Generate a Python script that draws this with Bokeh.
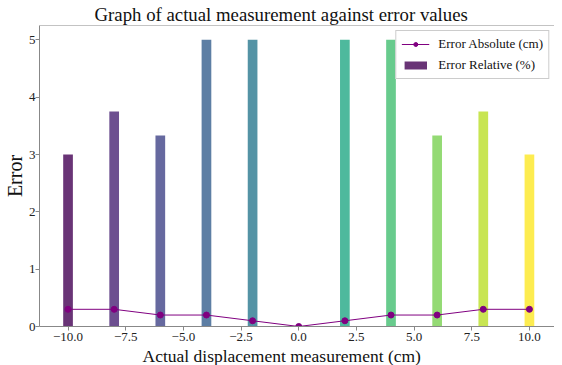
import math
from bokeh.plotting import figure
from bokeh.models import (ColumnDataSource, FixedTicker, CustomJSTickFormatter,
                          Range1d, Span, Legend, LegendItem, Title)
from bokeh.palettes import Viridis11
from bokeh.embed import file_html
from bokeh.resources import INLINE

# ---- data ----
displacement = [-10, -8, -6, -4, -2, 0, 2, 4, 6, 8, 10]
error_relative = [3.0, 3.75, 3.333, 5.0, 5.0, float("nan"), 5.0, 5.0, 3.333, 3.75, 3.0]
error_absolute = [0.3, 0.3, 0.2, 0.2, 0.1, 0.0, 0.1, 0.2, 0.2, 0.3, 0.3]
x_ticks = [-10, -7.5, -5, -2.5, 0, 2.5, 5, 7.5, 10]
y_ticks = [0, 1, 2, 3, 4, 5]
title_text = "Graph of actual measurement against error values"
x_label = "Actual displacement measurement (cm)"
y_label = "Error"
legend_abs = "Error Absolute (cm)"
legend_rel = "Error Relative (%)"

FONT = "Liberation Serif"

bar_src = ColumnDataSource(dict(x=displacement, top=error_relative, color=list(Viridis11)))
line_src = ColumnDataSource(dict(x=displacement, y=error_absolute))

p = figure(width=554, height=365, output_backend="svg", toolbar_location=None,
           x_range=Range1d(-11.237, 11.087), y_range=Range1d(0, 5.25),
           min_border_left=10, min_border_right=0, min_border_top=0, min_border_bottom=0,
           background_fill_color="white", border_fill_color="white")
p.outline_line_color = None
p.grid.visible = False

bars = p.vbar(x="x", top="top", width=0.42, bottom=0, source=bar_src,
              fill_color="color", fill_alpha=0.8, line_color=None)
ln = p.line(x="x", y="y", source=line_src, line_color="purple", line_width=1)
pts = p.scatter(x="x", y="y", source=line_src, size=6, marker="circle",
                fill_color="purple", line_color="purple")

top_spine = Span(location=5.25, dimension="width", line_color="#888888", line_width=1)
p.add_layout(top_spine)

# title
p.title.text = title_text
p.title.text_font = FONT
p.title.text_font_size = "18.8px"
p.title.text_font_style = "normal"
p.title.text_color = "#111111"
p.title.align = "left"
p.title.offset = 55
p.title.standoff = 2

for ax in (p.xaxis[0], p.yaxis[0]):
    ax.axis_line_color = "#888888"
    ax.major_tick_line_color = "#888888"
    ax.major_tick_out = 4
    ax.major_tick_in = 0
    ax.minor_tick_line_color = None
    ax.major_label_text_font = FONT
    ax.major_label_text_font_size = "13px"
    ax.major_label_text_color = "#222222"
    ax.axis_label_text_font = FONT
    ax.axis_label_text_font_style = "normal"
    ax.axis_label_text_color = "#111111"

p.xaxis[0].ticker = FixedTicker(ticks=x_ticks)
p.xaxis[0].formatter = CustomJSTickFormatter(
    code="return (tick < 0 ? '\\u2212' : '') + Math.abs(tick).toFixed(1);")
p.xaxis[0].major_label_standoff = 2

p.yaxis[0].ticker = FixedTicker(ticks=y_ticks)
p.yaxis[0].formatter = CustomJSTickFormatter(code="return tick.toFixed(0);")
p.yaxis[0].major_label_standoff = 0
p.yaxis[0].axis_label = y_label
p.yaxis[0].axis_label_text_font_size = "20px"
p.yaxis[0].axis_label_standoff = 0
p.yaxis[0].axis_label_text_line_height = 0.8

xtitle = Title(text=x_label, align="left", offset=103, standoff=0,
               text_font=FONT, text_font_size="17.5px", text_font_style="normal",
               text_color="#111111")
p.add_layout(xtitle, "below")

legend = Legend(items=[LegendItem(label=legend_abs, renderers=[ln, pts]),
                       LegendItem(label=legend_rel, renderers=[bars])],
                location="top_right")
legend.label_text_font = FONT
legend.label_text_font_size = "13px"
legend.label_text_font_style = "normal"
legend.label_text_color = "#111111"
legend.glyph_width = 28
legend.glyph_height = 10
legend.label_height = 14
legend.label_standoff = 9
legend.spacing = 5
legend.padding = 5
legend.margin = 5
legend.border_line_color = "#cccccc"
legend.border_line_alpha = 1.0
legend.background_fill_alpha = 0.8
p.add_layout(legend)

open("out.html", "w").write(file_html(p, INLINE))
